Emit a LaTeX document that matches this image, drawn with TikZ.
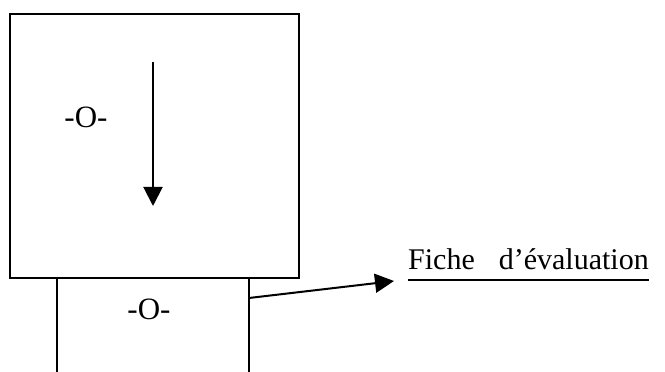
\documentclass[tikz,border=0pt]{standalone}
\usepackage{fontspec}
\setmainfont{Liberation Serif}
\usetikzlibrary{arrows.meta}
\begin{document}
\begin{tikzpicture}[x=1pt,y=1pt,
  line/.style={line width=2pt},
  tip/.style={-{Triangle[length=19pt,width=19pt]}},
  lbl/.style={inner sep=0pt,anchor=base,font=\fontsize{31}{33}\selectfont}]
\useasboundingbox (0,0) rectangle (665,372);
% big box
\node[draw,line width=2pt,minimum width=289pt,minimum height=264pt,inner sep=0pt] (big) at (154,226) {};
\node[lbl] (o1) at (86,244) {-O-};
\coordinate (a1) at (153,310);
\coordinate (a2) at (153,166);
\draw[line,tip] (a1) -- (a2);
% lower open box
\coordinate (l1) at (57,94);
\coordinate (l2) at (57,0);
\coordinate (r1) at (249,94);
\coordinate (r2) at (249,0);
\draw[line] (l1) -- (l2);
\draw[line] (r1) -- (r2);
\node[lbl] (o2) at (149,52) {-O-};
% label
\node[inner sep=0pt,anchor=base west,font=\fontsize{30}{32}\selectfont] (fiche) at (408,102) {Fiche\hspace{24pt}d’évaluation};
\draw[line width=1.4pt] ([yshift=-10pt]fiche.base west) -- ([yshift=-10pt]fiche.base east);
\coordinate (s) at (249,74);
\coordinate (t) at (394,91);
\draw[line,tip] (s) -- (t);
\end{tikzpicture}
\end{document}
